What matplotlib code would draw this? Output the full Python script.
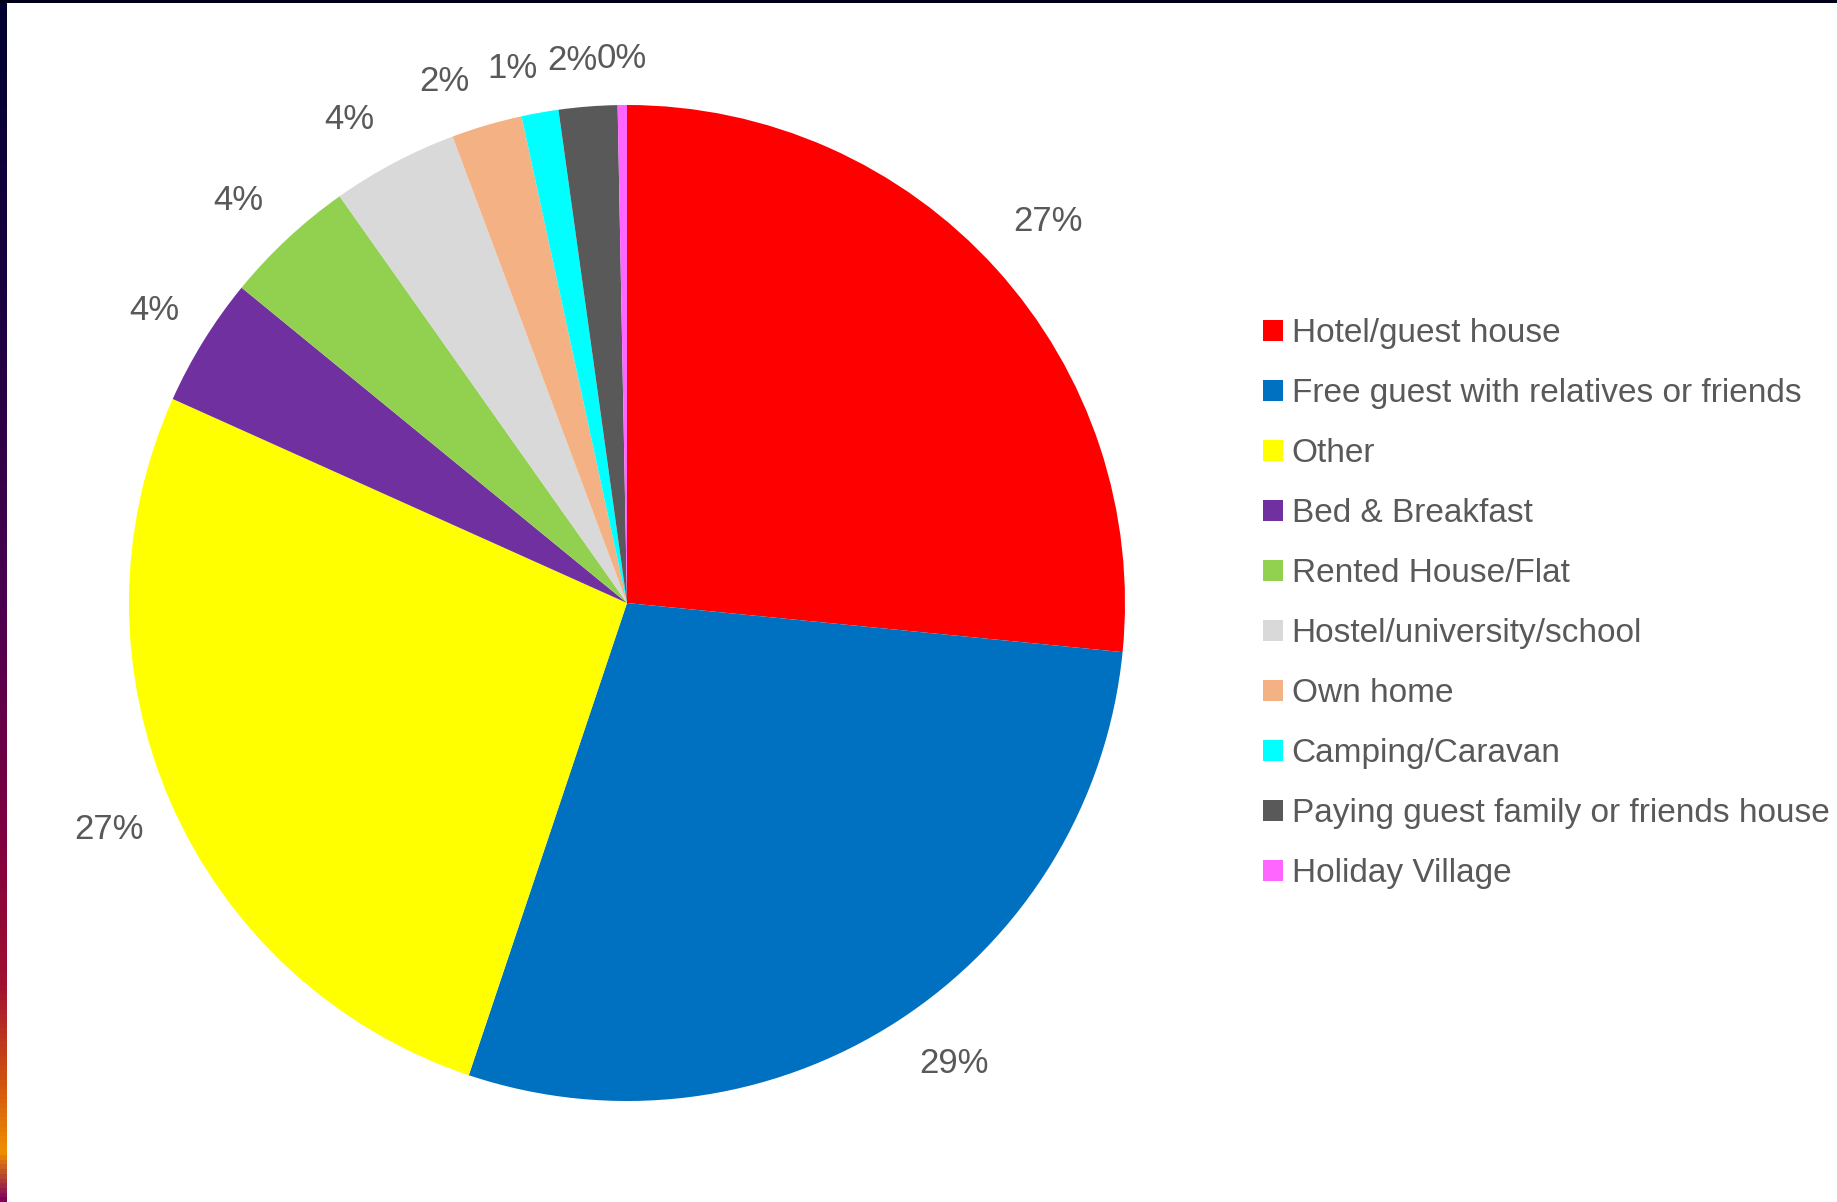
import numpy as np
import matplotlib.pyplot as plt
from matplotlib.patches import Patch
from matplotlib.colors import LinearSegmentedColormap

plt.rcParams['font.family'] = ['Liberation Sans', 'DejaVu Sans']

categories = ["Hotel/guest house", "Free guest with relatives or friends", "Other",
              "Bed & Breakfast", "Rented House/Flat", "Hostel/university/school",
              "Own home", "Camping/Caravan", "Paying guest family or friends house",
              "Holiday Village"]
shares = [26.6, 28.6, 26.6, 4.2, 4.3, 4.1, 2.3, 1.2, 1.9, 0.3]
colors = ["#FF0000", "#0070C0", "#FFFF00", "#7030A0", "#92D050", "#D9D9D9",
          "#F4B183", "#00FFFF", "#595959", "#FF66FF"]
txt = "#595959"

fig = plt.figure(figsize=(18.37, 12.02), dpi=100)
fig.patch.set_facecolor("white")

# dark gradient strip on the left edge and thin bar on top
strip = fig.add_axes([0, 0, 7 / 1837, 1])
grad = np.linspace(0, 1, 256).reshape(-1, 1)
cm = LinearSegmentedColormap.from_list(
    "edge", [(0, "#000030"), (0.25, "#1a0040"), (0.5, "#4a0050"), (0.7, "#800040"),
             (0.82, "#a01030"), (0.9, "#d05010"), (0.96, "#f09000"), (1, "#800060")])
strip.imshow(grad, aspect="auto", cmap=cm, extent=[0, 1, 1, 0])
strip.set_axis_off()
top = fig.add_axes([0, 1 - 3 / 1202, 1, 3 / 1202])
top.set_facecolor("#00001a")
top.set_xticks([]); top.set_yticks([])
for s in top.spines.values():
    s.set_visible(False)

ax = fig.add_axes([129 / 1837, 101 / 1202, 996 / 1837, 996 / 1202])
wedges, texts, autotexts = ax.pie(shares, colors=colors, startangle=90, counterclock=False,
                                  autopct="%.0f%%", pctdistance=1.135,
                                  textprops=dict(color=txt, fontsize=25))
# label placement like the original: small slices closer to rim, nudged a bit
dist = [1.14, 1.135, 1.135, 1.117, 1.123, 1.12, 1.109, 1.097, 1.094, 1.094]
shift = [0, 2.5, 0, 0, 1, 2, 3, 2, 1.3, 0]
for w, t, d, s in zip(wedges, autotexts, dist, shift):
    a = np.deg2rad((w.theta1 + w.theta2) / 2 + s)
    t.set_position((d * np.cos(a), d * np.sin(a)))
ax.set_xlim(-1, 1)
ax.set_ylim(-1, 1)
ax.set_aspect("equal")

handles = [Patch(facecolor=c, edgecolor="none") for c in colors]
fig.legend(handles, categories, loc="upper left", bbox_to_anchor=(1250 / 1837, 1 - 305 / 1202),
           frameon=False, fontsize=24, labelcolor=txt, handlelength=0.6, handleheight=0.6,
           handletextpad=0.25, labelspacing=0.87, borderaxespad=0)

fig.savefig("out.png", dpi=100, facecolor="white")
